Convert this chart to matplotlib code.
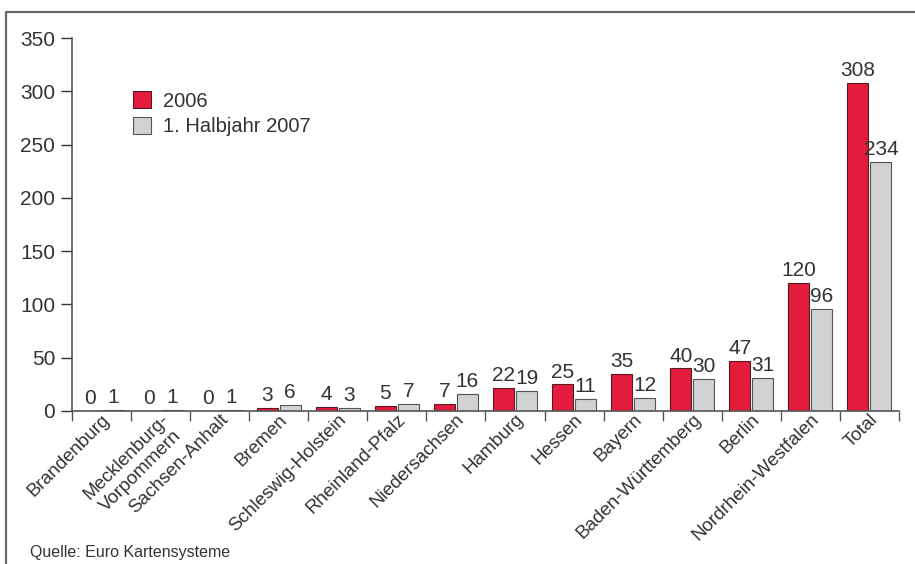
import numpy as np
import matplotlib.pyplot as plt
from matplotlib.lines import Line2D

plt.rcParams['font.family'] = ['Liberation Sans', 'DejaVu Sans']

laender = ['Brandenburg', 'Mecklenburg-\nVorpommern', 'Sachsen-Anhalt', 'Bremen',
           'Schleswig-Holstein', 'Rheinland-Pfalz', 'Niedersachsen', 'Hamburg',
           'Hessen', 'Bayern', 'Baden-Württemberg', 'Berlin',
           'Nordrhein-Westfalen', 'Total']
werte_2006 = [0, 0, 0, 3, 4, 5, 7, 22, 25, 35, 40, 47, 120, 308]
werte_2007 = [1, 1, 1, 6, 3, 7, 16, 19, 11, 12, 30, 31, 96, 234]

rot = '#e31b3c'
grau = '#d1d2d4'
textfarbe = '#333333'

fig = plt.figure(figsize=(9.15, 5.64), dpi=100)
ax = fig.add_axes([0.0787, 0.2713, 0.9038, 0.6613])

x = np.arange(len(laender))
w = 0.355
b1 = ax.bar(x - 0.195, werte_2006, w, color=rot, edgecolor='#5a1a22', linewidth=0.8, label='2006')
b2 = ax.bar(x + 0.195, werte_2007, w, color=grau, edgecolor='#555555', linewidth=0.8, label='1. Halbjahr 2007')

for bars in (b1, b2):
    for r in bars:
        ax.annotate(f'{int(r.get_height())}', (r.get_x() + r.get_width() / 2, r.get_height()),
                    xytext=(0, 2), textcoords='offset points', ha='center', va='bottom',
                    fontsize=15, color=textfarbe)

ax.set_xlim(-0.5, len(laender) - 0.5)
ax.set_ylim(0, 350)
ax.set_yticks(range(0, 351, 50))
ax.tick_params(axis='y', direction='out', length=8, width=1, color='#333333',
               labelsize=15, labelcolor=textfarbe, pad=4)

ax.set_xticks(np.arange(len(laender) + 1) - 0.5)
ax.set_xticklabels([])
ax.tick_params(axis='x', direction='out', length=7, width=1, color='#555555')
ax.set_xticks(x, minor=True)
ax.set_xticklabels(laender, minor=True, rotation=45, ha='right', rotation_mode='anchor',
                   fontsize=13.5, color=textfarbe, multialignment='center')
ax.tick_params(axis='x', which='minor', length=0, pad=0)

for s in ('top', 'right'):
    ax.spines[s].set_visible(False)
for s in ('left', 'bottom'):
    ax.spines[s].set_color('#555555')
    ax.spines[s].set_linewidth(1.2)

ax.legend(loc='upper left', bbox_to_anchor=(0.125, 0.87), bbox_transform=fig.transFigure,
          frameon=False, fontsize=14.5, handlelength=0.9, handleheight=0.9,
          handletextpad=0.6, labelspacing=0.3, labelcolor=textfarbe)

fig.text(30 / 915, 1 - 553 / 564, 'Quelle: Euro Kartensysteme', fontsize=11.5,
         color=textfarbe, va='center', ha='left')

# Rahmen links und oben
fig.add_artist(Line2D([5.5 / 915, 5.5 / 915, 1], [0, 1 - 12 / 564, 1 - 12 / 564],
                      transform=fig.transFigure, color='#666666', linewidth=1.6))

fig.savefig('out.png', dpi=100)
